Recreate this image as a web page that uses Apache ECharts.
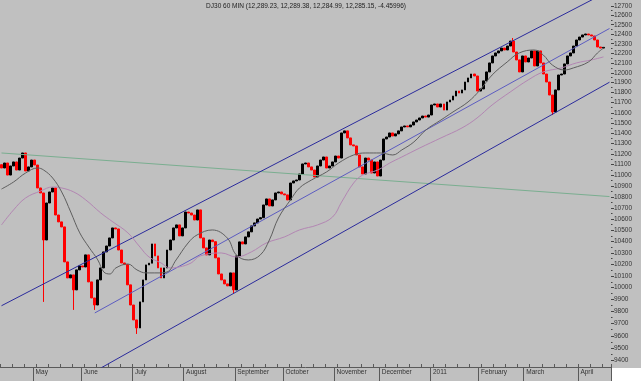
<!DOCTYPE html>
<html><head><meta charset="utf-8">
<script src="https://cdn.jsdelivr.net/npm/echarts@6/dist/echarts.min.js"></script>
<style>html,body{margin:0;padding:0;background:#c0c0c0}#c{width:641px;height:381px}</style>
</head><body><div id="c"></div><script>
// ---- data ----
const titleText = 'DJ30 60 MIN (12,289.23, 12,289.38, 12,284.99, 12,285.15, -4.45996)';
const barCount = 203;
const monthStartIdx = [11, 27, 44, 61, 78, 94, 111, 126, 143, 159, 174, 192];
const monthNames = ['May', 'June', 'July', 'August', 'September', 'October', 'November', 'December', '2011', 'February', 'March', 'April'];
const yTickLabels = [9400,9500,9600,9700,9800,9900,10000,10100,10200,10300,10400,10500,10600,10700,10800,10900,11000,11100,11200,11300,11400,11500,11600,11700,11800,11900,12000,12100,12200,12300,12400,12500,12600,12700];
const yMinorTicks = [9450,9550,9650,9750,9850,9950,10050,10150,10250,10350,10450,10550,10650,10750,10850,10950,11050,11150,11250,11350,11450,11550,11650,11750,11850,11950,12050,12150,12250,12350,12450,12550,12650];
const firstOpen = 11100;
const closes = [11069,11116,11003,11088,11126,11050,11163,11211,11041,11079,
11144,11097,10883,10837,10413,10745,10846,10883,10636,10574,
10529,10221,10083,10109,9981,10152,10186,10177,10282,10049,
9913,9854,10066,10169,10308,10360,10431,10520,10511,10325,
10212,10198,10024,9854,9730,9664,9880,10066,10195,10210,
10378,10273,10169,10083,10169,10325,10413,10520,10547,10449,
10520,10663,10654,10636,10591,10682,10431,10343,10282,10413,
10398,10256,10117,10066,10032,10015,10126,9981,10273,10396,
10378,10440,10485,10538,10565,10600,10612,10727,10782,10718,
10773,10837,10846,10828,10819,10773,10929,10948,10957,11013,
11107,11116,11079,11050,10985,11088,11144,11173,11069,11088,
11126,11182,11163,11403,11423,11355,11288,11278,11192,11079,
11013,11163,11144,11022,11126,10994,11144,11345,11364,11403,
11374,11394,11423,11461,11471,11462,11480,11510,11529,11549,
11568,11558,11578,11677,11687,11657,11687,11627,11707,11726,
11766,11816,11796,11827,11907,11948,11988,11968,11816,11837,
11918,12009,12101,12173,12204,12225,12255,12235,12276,12328,
12214,12132,12009,12173,12111,12152,12225,12070,12225,12101,
11988,11907,11776,11608,11827,11978,11988,12091,12173,12204,
12276,12339,12370,12392,12402,12392,12381,12339,12266,12255,
12262];
const wickLowIdx = [14, 24, 31, 45, 77, 183];
const wickLowVal = [9880, 9813, 9813, 9615, 9955, 11578];
const wickHighIdx = [170];
const wickHighVal = [12360];

const maFastIdx = [0,4,8,12,14,17,20,23,26,29,32,34,36,38,42,45,48,52,55,58,62,65,70,75,78,82,86,89,92,96,99,103,108,112,117,121,126,130,133,137,141,146,150,155,159,163,168,172,177,180,183,187,190,195,198,200];
const maFastVal = [10873,10938,11022,11069,11050,10975,10846,10663,10476,10351,10238,10134,10117,10169,10203,10152,10126,10126,10134,10238,10387,10458,10502,10431,10282,10238,10282,10413,10609,10773,10883,10957,11032,11116,11192,11211,11211,11192,11240,11316,11432,11529,11608,11707,11827,11978,12111,12204,12235,12183,12080,12029,12050,12111,12204,12255];
const maSlowIdx = [0,4,8,13,17,20,24,28,33,37,42,46,49,53,56,59,63,66,73,78,83,88,94,99,105,110,113,117,120,125,129,133,139,146,153,158,163,169,175,180,186,191,196,200];
const maSlowVal = [10547,10682,10791,10855,10892,10883,10846,10773,10654,10574,10476,10351,10264,10212,10169,10177,10212,10273,10299,10264,10308,10387,10440,10502,10547,10618,10754,10929,11003,11050,11116,11173,11259,11355,11452,11549,11677,11806,11928,12009,12050,12101,12132,12163];

const upperIdx = [0, 202];  const upperVal = [9848, 12866];
const midIdx = [31, 202];   const midVal = [9788, 12460];
const lowerIdx = [33, 202]; const lowerVal = [9341, 11905];
const greenIdx = [0, 202];  const greenVal = [11211, 10804];

// ---- build ----
const categories = Array.from({length: barCount}, (_, i) => String(i));
const candles = closes.map((c, i) => {
  const o = i === 0 ? firstOpen : closes[i - 1];
  let lo = Math.min(o, c), hi = Math.max(o, c);
  const a = wickLowIdx.indexOf(i); if (a >= 0) lo = wickLowVal[a];
  const b = wickHighIdx.indexOf(i); if (b >= 0) hi = wickHighVal[b];
  return [o, c, lo, hi];
});
function sparse(idx, val) { const arr = new Array(barCount).fill(null); idx.forEach((k, j) => arr[k] = val[j]); return arr; }
function seg(idx, val) { return idx.map((k, j) => [k, val[j]]); }
const monthSet = new Set(monthStartIdx);
const FONT = 'Liberation Sans, Arial, sans-serif';

const chart = echarts.init(document.getElementById('c'), null, {renderer: 'canvas'});
chart.setOption({
  backgroundColor: '#c0c0c0',
  animation: false,
  graphic: [
    {type: 'rect', right: 0, bottom: 0, shape: {width: 29, height: 13}, style: {fill: '#ffffff'}, z: -1},
    {type: 'text', x: 306, y: 3, style: {text: titleText, font: '6.5px ' + FONT, fill: '#222', align: 'center'}}
  ],
  grid: {left: 0, right: 30, top: 0, bottom: 14},
  xAxis: [{
    type: 'category', data: categories, boundaryGap: true,
    axisLine: {lineStyle: {color: '#5a5a5a', width: 1}},
    axisTick: {show: true, length: 14, interval: (i) => monthSet.has(i), lineStyle: {color: '#5a5a5a'}},
    axisLabel: {interval: (i) => monthSet.has(i), formatter: (v, i) => monthNames[monthStartIdx.indexOf(i)] || '', align: 'left', margin: 2, padding: [0,0,0,1], fontSize: 6.5, fontFamily: FONT, color: '#333'},
    splitLine: {show: false}
  }, {
    type: 'category', data: categories, boundaryGap: true, position: 'bottom',
    axisLine: {show: false},
    axisTick: {show: true, inside: true, length: 3, interval: 3, lineStyle: {color: '#5a5a5a'}},
    axisLabel: {show: false}, splitLine: {show: false}
  }],
  yAxis: [{
    type: 'log', position: 'right', min: 9349, max: 12765, logBase: 10,
    axisLine: {show: false},
    axisTick: {show: true, length: 3, customValues: yTickLabels, lineStyle: {color: '#444'}},
    axisLabel: {customValues: yTickLabels, formatter: (v) => String(Math.round(v)), margin: 3, fontSize: 6.5, fontFamily: FONT, color: '#333'},
    splitLine: {show: false}
  }, {
    type: 'log', position: 'right', min: 9349, max: 12765, logBase: 10,
    axisLine: {show: false},
    axisTick: {show: true, length: 1.5, customValues: yMinorTicks, lineStyle: {color: '#444'}},
    axisLabel: {show: false}, splitLine: {show: false}
  }],
  series: [
    {type: 'line', data: seg(greenIdx, greenVal), showSymbol: false, lineStyle: {color: '#7aae90', width: 1}, silent: true},
    {type: 'line', data: seg(upperIdx, upperVal), showSymbol: false, lineStyle: {color: '#2b2b9c', width: 1}, silent: true},
    {type: 'line', data: seg(midIdx, midVal), showSymbol: false, lineStyle: {color: '#5c5cc0', width: 1}, silent: true},
    {type: 'line', data: seg(lowerIdx, lowerVal), showSymbol: false, lineStyle: {color: '#2b2b9c', width: 1}, silent: true},
    {type: 'line', data: sparse(maSlowIdx, maSlowVal), connectNulls: true, smooth: 0.4, showSymbol: false, lineStyle: {color: '#b386b3', width: 1}, silent: true},
    {type: 'line', data: sparse(maFastIdx, maFastVal), connectNulls: true, smooth: 0.4, showSymbol: false, lineStyle: {color: '#5e5e5e', width: 1}, silent: true},
    {type: 'candlestick', data: candles, barWidth: 2.4, barMaxWidth: 3,
     itemStyle: {color: '#000000', color0: '#ff0000', borderColor: '#000000', borderColor0: '#ff0000', borderWidth: 1}}
  ]
});
</script></body></html>
